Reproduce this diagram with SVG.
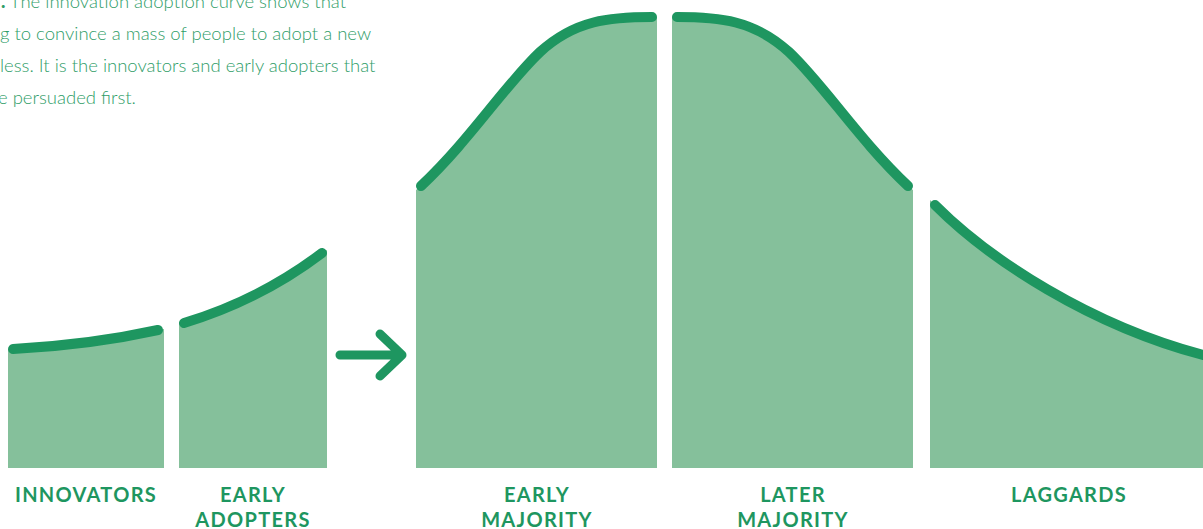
<svg xmlns="http://www.w3.org/2000/svg" width="1203" height="529" viewBox="0 0 1203 529">
<style>
.fill{fill:#85c09b;}
.curve{fill:none;stroke:#1e9660;stroke-width:10;stroke-linecap:round;}
.lbl{font-family:Lato,"Liberation Sans",sans-serif;font-weight:700;font-size:20px;letter-spacing:1.3px;fill:#1e9660;text-anchor:middle;}
.body{font-family:Lato,"Liberation Sans",sans-serif;font-weight:300;font-size:18.5px;fill:#2f9d68;}
</style>
<rect width="1203" height="529" fill="#ffffff"/>
<g id="caption">
<text class="body" x="1" y="8"><tspan font-weight="900">.</tspan> The innovation adoption curve shows that</text>
<text class="body" x="0" y="40">g to convince a mass of people to adopt a new</text>
<text class="body" x="0" y="72">less. It is the innovators and early adopters that</text>
<text class="body" x="-2" y="104">e persuaded first.</text>
</g>
<g id="innovators">
<path class="fill" d="M8,468 V349 L13,349 Q90,345 158,330 L164,329 V468 Z"/>
<path class="curve" d="M13,349 Q90,345 158,330"/>
<text class="lbl" x="86" y="502">INNOVATORS</text>
</g>
<g id="early-adopters">
<path class="fill" d="M179,468 V324 L184,323 Q260,300 322,253 L327,250 V468 Z"/>
<path class="curve" d="M184,323 Q260,300 322,253"/>
<text class="lbl" x="253" y="502">EARLY</text>
<text class="lbl" x="253" y="527">ADOPTERS</text>
</g>
<g id="early-majority">
<path class="fill" d="M416,468 V190 L421,186 C470,140 505,85 540,52 C575,20 610,17 652,17 L657,17 V468 Z"/>
<path class="curve" d="M421,186 C470,140 505,85 540,52 C575,20 610,17 652,17"/>
<text class="lbl" x="537" y="502">EARLY</text>
<text class="lbl" x="537" y="527">MAJORITY</text>
</g>
<g id="later-majority">
<path class="fill" d="M913,468 V190 L908,186 C859,140 824,85 789,52 C754,20 719,17 677,17 L672,17 V468 Z"/>
<path class="curve" d="M908,186 C859,140 824,85 789,52 C754,20 719,17 677,17"/>
<text class="lbl" x="793" y="502">LATER</text>
<text class="lbl" x="793" y="527">MAJORITY</text>
</g>
<g id="laggards">
<path class="fill" d="M930,468 V200 L935,205 C990,260 1090,325 1203,355 V468 Z"/>
<path class="curve" d="M935,205 C990,260 1090,325 1203,355"/>
<text class="lbl" x="1069" y="502">LAGGARDS</text>
</g>
<g id="connectors">
<path d="M340,355 H402 M380,334 L402,355 L380,376" fill="none" stroke="#1e9660" stroke-width="9" stroke-linecap="round" stroke-linejoin="round"/>
</g>
</svg>
